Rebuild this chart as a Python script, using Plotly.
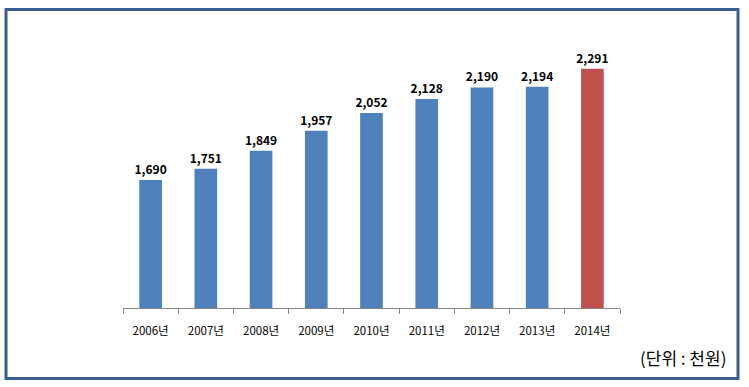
import plotly.graph_objects as go

years = ["2006년", "2007년", "2008년", "2009년", "2010년", "2011년", "2012년", "2013년", "2014년"]
values = [1690, 1751, 1849, 1957, 2052, 2128, 2190, 2194, 2291]
colors = ["#4F81BD"] * 8 + ["#C0504D"]
unit_label = "(단위 : 천원)"

FONT = "Noto Sans CJK KR"

fig = go.Figure(go.Bar(
    x=years, y=values,
    marker=dict(color=colors, line=dict(width=0)),
    texttemplate="<b>%{y:,}</b>",
    textposition="outside",
    constraintext="none",
    textfont=dict(size=12, color="#000000", family=FONT),
    cliponaxis=False,
))

L, R, T, B = 123, 620, 30, 308
W, H = 749, 387
pw, ph = R - L, B - T

def px(x):
    return (x - L) / pw

def py(y):
    return (B - y) / ph

fig.update_layout(
    width=W, height=H,
    margin=dict(l=L, r=W - R, t=T, b=H - B),
    paper_bgcolor="white", plot_bgcolor="white",
    bargap=0.59,
    showlegend=False,
    font=dict(family=FONT, size=11, color="#000000"),
    xaxis=dict(
        type="category",
        showline=True, linecolor="#888888", linewidth=1,
        ticks="outside", tickson="boundaries", ticklen=5, tickcolor="#888888",
        ticklabelstandoff=12,
        tickfont=dict(size=11.5, family=FONT, color="#000000"),
        showgrid=False,
    ),
    yaxis=dict(visible=False, range=[1000, 2500], showgrid=False),
    shapes=[dict(
        type="rect", xref="paper", yref="paper",
        x0=px(6), x1=px(738), y0=py(9.5), y1=py(378.5),
        line=dict(color="#3B6090", width=3), fillcolor="rgba(0,0,0,0)",
    )],
    annotations=[dict(
        text=unit_label, xref="paper", yref="paper",
        x=px(728), y=py(357), xanchor="right", yanchor="middle",
        showarrow=False, font=dict(size=17, family=FONT, color="#000000"),
    )],
)

fig.write_html(
    "out.html",
    config={"displayModeBar": False},
    post_script="document.body.style.margin='0';document.body.style.overflow='hidden';",
)
